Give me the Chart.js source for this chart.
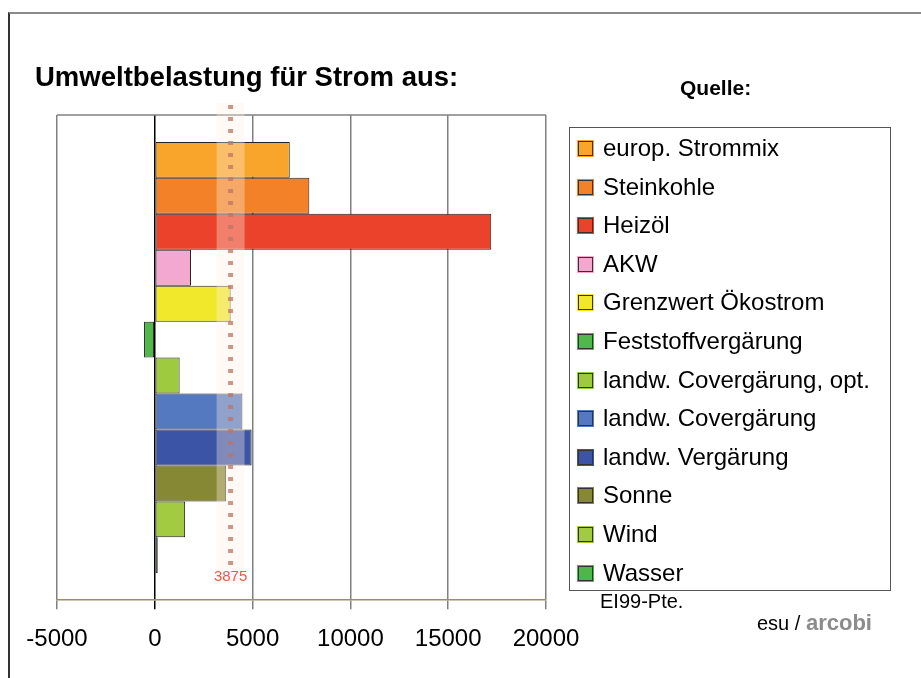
<!DOCTYPE html>
<html>
<head>
<meta charset="utf-8">
<script src="https://cdn.jsdelivr.net/npm/chart.js@4"></script>
<style>
  body { margin: 0; background: #fff; font-family: "Liberation Sans", Arial, sans-serif; }
  #wrap { position: relative; width: 921px; height: 678px; overflow: hidden; }
  #frame { position: absolute; left: 8px; top: 12px; width: 940px; height: 700px;
           border-top: 2px solid #8a8a8a; border-left: 2px solid #333; }
  canvas { position: absolute; left: 0; top: 0; }
  .txt { position: absolute; white-space: nowrap; color: #000; }
  #legend { position: absolute; left: 569px; top: 127px; width: 320px; height: 462px;
            border: 1.5px solid #555; }
  .item { position: absolute; left: 0; height: 28px; line-height: 28px; font-size: 24px; white-space: nowrap; }
  .box { position: absolute; left: 8px; top: 7px; width: 13px; height: 13px; border: 1px solid #333; }
  .lbl { position: absolute; left: 33px; top: 0; white-space: nowrap; }
</style>
</head>
<body>
<div id="wrap">
  <div id="frame"></div>
  <canvas id="myChart" width="921" height="678"></canvas>
  <div class="txt" style="left:35px; top:61px; font-size:27.5px; font-weight:bold;">Umweltbelastung für Strom aus:</div>
  <div class="txt" style="left:680px; top:76px; font-size:21px; font-weight:bold;">Quelle:</div>
  <div id="legend"></div>
  <div class="txt" style="left:600px; top:590px; font-size:20px;">EI99-Pte.</div>
  <div class="txt" style="left:757px; top:610px; font-size:20px;">esu / <span style="color:#8c8c8c; font-weight:bold; font-size:22px;">arcobi</span></div>
</div>
<script>
const sources = ['europ. Strommix', 'Steinkohle', 'Heizöl', 'AKW', 'Grenzwert Ökostrom',
  'Feststoffvergärung', 'landw. Covergärung, opt.', 'landw. Covergärung', 'landw. Vergärung',
  'Sonne', 'Wind', 'Wasser'];
const points = [6900, 7900, 17200, 1850, 3875, -550, 1270, 4480, 4950, 3650, 1550, 150];
const colors = ['#F9A52B', '#F28128', '#EA422B', '#F3A8CF', '#F1E82C', '#4FB848',
  '#9DCA3E', '#5579C0', '#3C54A6', '#878834', '#A3CB41', '#4DB749'];
const xTicks = [-5000, 0, 5000, 10000, 15000, 20000];
const limitValue = 3875;

// legend as html, built from the same arrays
const legendEl = document.getElementById('legend');
sources.forEach(function(name, i) {
    const it = document.createElement('div');
    it.className = 'item';
    it.style.top = (6 + i * 38.6) + 'px';
    it.innerHTML = '<div class="box" style="background:' + colors[i] + ';box-shadow:0 0 0 1px ' + colors[i] + '"></div>' +
        '<div class="lbl">' + name + '</div>';
    legendEl.appendChild(it);
});

const limitLine = {
    id: 'limitLine',
    afterDatasetsDraw(chart) {
        const ctx = chart.ctx;
        const area = chart.chartArea;
        const x = chart.scales.x.getPixelForValue(limitValue);
        ctx.save();
        ctx.fillStyle = 'rgba(255,240,225,0.35)';
        ctx.fillRect(x - 14, area.top - 12, 28, area.bottom - area.top - 4);
        ctx.strokeStyle = 'rgba(190,115,100,0.75)';
        ctx.lineWidth = 5;
        ctx.setLineDash([4, 8]);
        ctx.beginPath();
        ctx.moveTo(x, area.top - 10);
        ctx.lineTo(x, area.bottom - 34);
        ctx.stroke();
        ctx.setLineDash([]);
        ctx.fillStyle = 'rgba(235,60,40,0.85)';
        ctx.font = '15px "Liberation Sans", Arial';
        ctx.textAlign = 'center';
        ctx.textBaseline = 'middle';
        ctx.fillText(String(limitValue), x, area.bottom - 23);
        ctx.restore();
    },
    beforeDatasetsDraw(chart) {
        const ctx = chart.ctx;
        const area = chart.chartArea;
        ctx.save();
        ctx.strokeStyle = '#808080';
        ctx.lineWidth = 1.5;
        ctx.beginPath();
        ctx.moveTo(area.left, area.top);
        ctx.lineTo(area.right, area.top);
        ctx.stroke();
        ctx.restore();
    }
};

new Chart(document.getElementById('myChart'), {
    type: 'bar',
    data: {
        labels: [''],
        datasets: sources.map(function(name, i) {
            return {
                label: name,
                data: [points[i]],
                backgroundColor: colors[i],
                borderColor: '#222',
                borderWidth: 1,
                borderSkipped: false,
                barPercentage: 1,
                categoryPercentage: 0.889
            };
        })
    },
    options: {
        indexAxis: 'y',
        responsive: false,
        animation: false,
        layout: { padding: { left: 57, right: 375, top: 115, bottom: 8 } },
        plugins: {
            legend: { display: false },
            tooltip: { enabled: false }
        },
        scales: {
            x: {
                min: -5000,
                max: 20000,
                afterBuildTicks: function(axis) {
                    axis.ticks = xTicks.map(function(v) { return { value: v }; });
                },
                grid: {
                    color: function(c) { return c.tick && c.tick.value === 0 ? '#000' : '#808080'; },
                    lineWidth: 1.5,
                    tickLength: 9
                },
                border: { color: '#9c8f66', width: 1.5 },
                ticks: {
                    color: '#000',
                    padding: 16,
                    maxRotation: 0,
                    font: { size: 24, family: '"Liberation Sans", Arial' },
                    callback: function(value) { return String(value); }
                }
            },
            y: { display: false }
        }
    },
    plugins: [limitLine]
});
</script>
</body>
</html>
